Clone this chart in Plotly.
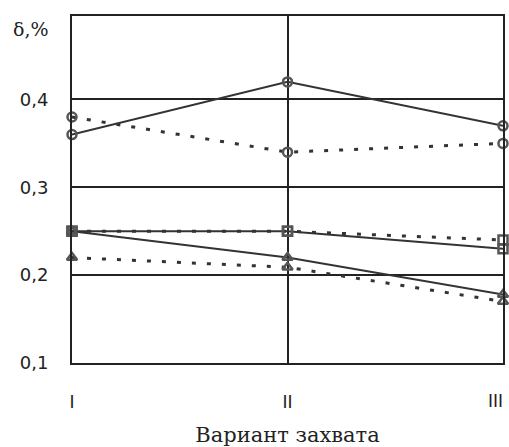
import plotly.graph_objects as go

categories = ["I", "II", "III"]
y_ticks = [0.1, 0.2, 0.3, 0.4]
y_tick_labels = ["0,1", "0,2", "0,3", "0,4"]

circle_solid = [0.36, 0.42, 0.37]
circle_dotted = [0.38, 0.34, 0.35]
square_solid = [0.25, 0.25, 0.23]
square_dotted = [0.25, 0.25, 0.24]
triangle_solid = [0.25, 0.22, 0.178]
triangle_dotted = [0.22, 0.209, 0.17]

xpos = list(range(len(categories)))

series = [
    (circle_solid, "solid", "circle-open"),
    (circle_dotted, "4px,11px", "circle-open"),
    (square_solid, "solid", "square-open"),
    (square_dotted, "4px,11px", "square-open"),
    (triangle_solid, "solid", "triangle-up-open"),
    (triangle_dotted, "4px,11px", "triangle-up-open"),
]

fig = go.Figure()
for vals, dash, sym in series:
    fig.add_trace(go.Scatter(
        x=xpos, y=vals, mode="lines+markers",
        line=dict(color="#333333", width=2 if dash == "solid" else 3, dash=dash),
        marker=dict(symbol=sym, size=9, color="#555555", line=dict(width=2.5, color="#555555")),
        showlegend=False, cliponaxis=False,
    ))

# the last category label sits just inside the right edge, as in the reference
tick_text = categories[:-1] + [""]

fig.update_layout(
    width=509, height=447,
    margin=dict(l=72, r=6, t=16, b=84),
    plot_bgcolor="white", paper_bgcolor="white",
    font=dict(family="DejaVu Sans, Arial, sans-serif", color="#222222"),
    xaxis=dict(
        range=[0, 2], tickvals=xpos, ticktext=tick_text,
        showgrid=True, gridcolor="#222222", gridwidth=2,
        showline=True, linecolor="#222222", linewidth=2, mirror=True,
        zeroline=False, ticks="", ticklabelstandoff=21, automargin=False,
        ticklabeloverflow="allow",
        tickfont=dict(size=18, family="Liberation Sans, Arial, sans-serif"),
        title=dict(text="Вариант захвата", font=dict(family="DejaVu Serif, serif", size=21), standoff=17),
    ),
    yaxis=dict(
        range=[0.1, 0.495], tickvals=y_ticks, ticktext=y_tick_labels,
        showgrid=True, gridcolor="#222222", gridwidth=2,
        showline=True, linecolor="#222222", linewidth=2, mirror=True,
        zeroline=False, ticks="", ticklabelstandoff=18, automargin=False,
        tickfont=dict(size=18),
    ),
    annotations=[
        dict(
            text="δ,%", xref="paper", yref="paper", x=-0.142, y=1.0,
            xanchor="left", yanchor="top", showarrow=False,
            font=dict(family="DejaVu Serif, serif", size=19, color="#222222"),
        ),
        dict(
            text=categories[-1], xref="x", yref="paper", x=xpos[-1], y=0,
            xanchor="center", yanchor="top", xshift=-8, yshift=-26, showarrow=False,
            font=dict(family="Liberation Sans, Arial, sans-serif", size=18, color="#222222"),
        ),
    ],
)

fig.write_html(
    "out.html",
    config={"displayModeBar": False},
    post_script="document.body.style.margin='0';document.body.style.overflow='hidden';",
)
